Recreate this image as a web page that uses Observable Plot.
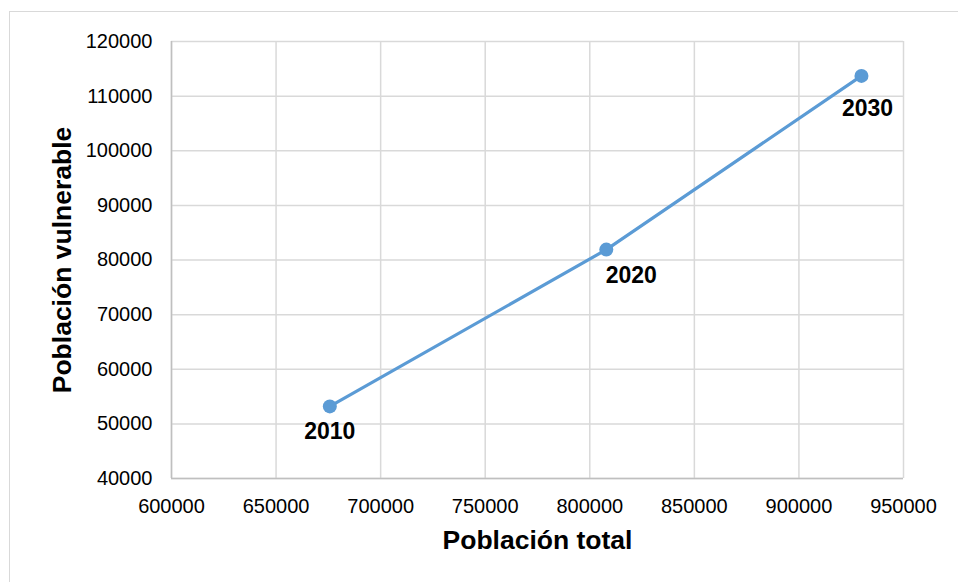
<!DOCTYPE html>
<html>
<head>
<meta charset="utf-8">
<script src="https://cdn.jsdelivr.net/npm/d3@7"></script>
<script src="https://cdn.jsdelivr.net/npm/@observablehq/plot@0.6"></script>
<style>
  html, body { margin: 0; padding: 0; background: #fff; }
  #wrap { position: relative; width: 958px; height: 582px; overflow: hidden; }
  #border { position: absolute; left: 9px; top: 11px; width: 960px; height: 580px; border: 1px solid #d9d9d9; box-sizing: border-box; }
  #chart { position: absolute; left: 0; top: 0; }
</style>
</head>
<body>
<div id="wrap"><div id="border"></div><div id="chart"></div></div>
<script>
// Projected vulnerable vs total population by year
const years = [2010, 2020, 2030];
const totalPop = [675700, 807900, 929900];
const vulnerablePop = [53200, 81900, 113700];

const xTicks = [600000, 650000, 700000, 750000, 800000, 850000, 900000, 950000];
const yTicks = [40000, 50000, 60000, 70000, 80000, 90000, 100000, 110000, 120000];

const data = years.map((year, i) => ({ year, total: totalPop[i], vulnerable: vulnerablePop[i] }));

const blue = "#5b9bd5";
const font = "'Liberation Sans', Arial, sans-serif";
const yearText = d => String(d.year);

const chart = Plot.plot({
  width: 958,
  height: 582,
  marginLeft: 171,
  marginRight: 55,
  marginTop: 41,
  marginBottom: 104,
  style: { fontFamily: font, color: "#000", background: "transparent" },
  x: { domain: [600000, 950000] },
  y: { domain: [40000, 120000] },
  marks: [
    Plot.gridX(xTicks, { stroke: "#d9d9d9", strokeOpacity: 1, strokeWidth: 1.5 }),
    Plot.gridY(yTicks, { stroke: "#d9d9d9", strokeOpacity: 1, strokeWidth: 1.5 }),
    Plot.ruleX([600000], { stroke: "#bfbfbf", strokeWidth: 1.5 }),
    Plot.ruleY([40000], { stroke: "#bfbfbf", strokeWidth: 1.5 }),
    Plot.axisX(xTicks, { tickSize: 0, tickPadding: 20, fontSize: 20, tickFormat: d => String(d), label: null }),
    Plot.axisY(yTicks, { tickSize: 0, tickPadding: 19, fontSize: 20, tickFormat: d => String(d), label: null }),
    Plot.line(data, { x: "total", y: "vulnerable", stroke: blue, strokeWidth: 3.2 }),
    Plot.dot(data, { x: "total", y: "vulnerable", r: 7, fill: blue, stroke: "none" }),
    Plot.text(data.filter(d => d.year === 2010), { x: "total", y: "vulnerable", text: yearText, dy: 25, fontSize: 23, fontWeight: "bold", fill: "#000" }),
    Plot.text(data.filter(d => d.year === 2020), { x: "total", y: "vulnerable", text: yearText, dx: 25, dy: 26, fontSize: 23, fontWeight: "bold", fill: "#000" }),
    Plot.text(data.filter(d => d.year === 2030), { x: "total", y: "vulnerable", text: yearText, dx: 6, dy: 33, fontSize: 23, fontWeight: "bold", fill: "#000" }),
    Plot.text(["Población total"], { frameAnchor: "bottom", lineAnchor: "middle", dy: 62, fontSize: 26.5, fontWeight: "bold", fill: "#000" }),
    Plot.text(["Población vulnerable"], { frameAnchor: "left", textAnchor: "middle", lineAnchor: "middle", dx: -109, rotate: -90, fontSize: 26.5, fontWeight: "bold", fill: "#000" })
  ]
});

document.getElementById("chart").appendChild(chart);
</script>
</body>
</html>
